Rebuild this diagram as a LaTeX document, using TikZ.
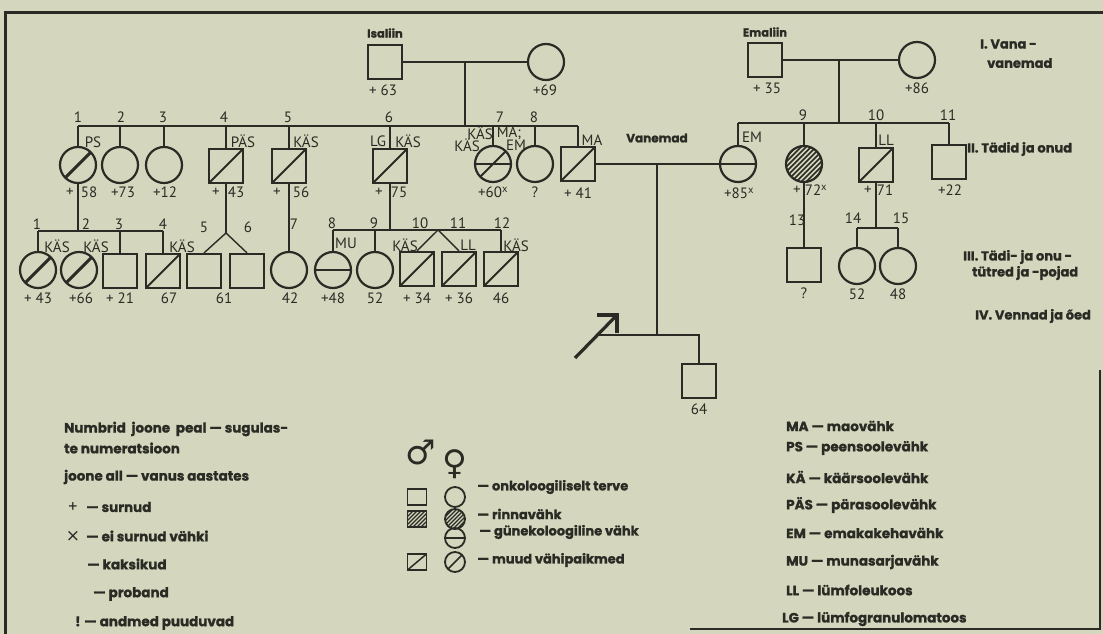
\documentclass[tikz,border=0pt]{standalone}
\usepackage{fontspec}
\setmainfont{PT Sans}
\newfontfamily\bfam{Poppins}[BoldFeatures={FakeBold=1.2}]
\newfontfamily\symf{DejaVu Sans}
\usetikzlibrary{calc}
\definecolor{bg}{HTML}{D4D7BD}
\definecolor{ink}{HTML}{2B2B25}
\begin{document}
\begin{tikzpicture}[x=1pt,y=-1pt,color=ink,
  ln/.style={line width=1.4pt},
  sq/.style={draw=ink,line width=2.2pt,rectangle,minimum width=34pt,minimum height=34pt,inner sep=0pt},
  ci/.style={draw=ink,line width=2.2pt,circle,minimum size=36pt,inner sep=0pt},
  lsq/.style={draw=ink,line width=1.8pt,rectangle,minimum width=19pt,minimum height=16pt,inner sep=0pt},
  lci/.style={draw=ink,line width=1.8pt,circle,minimum size=20pt,inner sep=0pt},
  sl/.style={path picture={\draw[ink,line width=1.8pt] (path picture bounding box.south west) -- (path picture bounding box.north east);}},
  slt/.style={path picture={\draw[ink,line width=3pt] (path picture bounding box.south west) -- (path picture bounding box.north east);}},
  hl/.style={path picture={\draw[ink,line width=2.4pt] (path picture bounding box.west) -- (path picture bounding box.east);}},
  hlsl/.style={path picture={\draw[ink,line width=2pt] (path picture bounding box.west) -- (path picture bounding box.east);
     \draw[ink,line width=1.8pt] (path picture bounding box.south west) -- (path picture bounding box.north east);}},
  hat/.style={path picture={\foreach \k in {-60,-55,...,60}{\draw[ink,line width=1.6pt] ([shift={({\k-40},40)}]path picture bounding box.center) -- ++(80,-80);}}},
  hats/.style={path picture={\foreach \k in {-40,-36,...,40}{\draw[ink,line width=1.2pt] ([shift={({\k-30},30)}]path picture bounding box.center) -- ++(60,-60);}}},
  lb/.style={font=\fontsize{15}{15}\selectfont,inner sep=0pt,text=ink},
  bl/.style={font=\bfam\bfseries\fontsize{13.5}{13.5}\selectfont,inner sep=0pt,anchor=west,text=ink},
  bc/.style={font=\bfam\bfseries\fontsize{11.5}{11.5}\selectfont,inner sep=0pt,text=ink}
]
\fill[bg] (0,0) rectangle (1103,634);
\useasboundingbox (0,0) rectangle (1103,634);
% frame
\draw[line width=3pt] (5,13) -- (1103,13);
\draw[line width=3pt] (5,11.5) -- (5,634);
\draw[line width=2.5pt] (690,629) -- (1100,629) -- (1100,370);

% ---------- paternal grandparents
\node[bc] (isa) at (385,33) {Isaliin};
\node[sq] (gf1) at (385,62) {};
\node[ci] (gm1) at (546,62) {};
\draw[ln] (gf1.east) -- (gm1.west);
\coordinate (c1) at (465,62);
\coordinate (s1) at (465,126);
\draw[ln] (c1) -- (s1);
\node[lb] (a1) at (383,90) {+ 63};
\node[lb] (a2) at (545,90) {+69};

% ---------- generation II paternal
\node[ci,slt] (p1) at (78,165) {};
\node[ci] (p2) at (120,165) {};
\node[ci] (p3) at (164,165) {};
\node[sq,sl] (p4) at (226,166) {};
\node[sq,sl] (p5) at (289,166) {};
\node[sq,sl] (p6) at (390,166) {};
\node[ci,hlsl] (p7) at (493,164) {};
\node[ci] (p8) at (535,164) {};
\node[sq,sl] (fa) at (578,164) {};
\draw[ln] (p1.north |- s1) -- (fa.north |- s1);
\foreach \n in {p1,p2,p3,p4,p5,p6,p7,p8,fa} \draw[ln] (\n.north) -- (\n.north |- s1);

\node[lb] (n1) at (78,117) {1};
\node[lb] (n2) at (121,117) {2};
\node[lb] (n3) at (163,117) {3};
\node[lb] (n4) at (224,117) {4};
\node[lb] (n5) at (288,117) {5};
\node[lb] (n6) at (389,117) {6};
\node[lb] (n7) at (500,117) {7};
\node[lb] (n8) at (534,117) {8};

\node[lb] (d1) at (93,142) {PS};
\node[lb] (d4) at (243,141) {PÄS};
\node[lb] (d5) at (306,141) {KÄS};
\node[lb] (d6a) at (378,141) {LG};
\node[lb] (d6b) at (408,141) {KÄS};
\node[lb] (d7a) at (480,133) {KÄS};
\node[lb] (d7b) at (467,145) {KÄS};
\node[lb] (d7c) at (509,133) {MA;};
\node[lb] (d7d) at (516,145) {EM};
\node[lb] (dfa) at (592,140) {MA};

\node[lb] (g1a) at (70,192) {+};
\node[lb] (g1b) at (89,192) {58};
\node[lb] (g2) at (123,192) {+73};
\node[lb] (g3) at (165,192) {+12};
\node[lb] (g4a) at (216,192) {+};
\node[lb] (g4b) at (236,192) {43};
\node[lb] (g5a) at (277,192) {+};
\node[lb] (g5b) at (301,192) {56};
\node[lb] (g6a) at (379,192) {+};
\node[lb] (g6b) at (399,192) {75};
\node[lb] (g7) at (493,192) {+60\textsuperscript{x}};
\node[lb] (g8) at (535,192) {?};
\node[lb] (gfa) at (578,193) {+ 41};

% ---------- parents
\node[ci,hl] (mo) at (738,164) {};
\node[lb] (dmo) at (752,137) {EM};
\node[lb] (gmo) at (739,193) {+85\textsuperscript{x}};
\node[bc,font=\bfam\bfseries\fontsize{12}{12}\selectfont] (van) at (657,138) {Vanemad};
\draw[ln] (fa.east) -- (mo.west);
\coordinate (c2) at (657,164);
\coordinate (s4) at (657,335);
\coordinate (s4l) at (598,335);
\node[sq] (pr) at (699,381) {};
\node[lb] (gpr) at (699,409) {64};
\draw[ln] (c2) -- (s4);
\draw[ln] (s4l) -- (s4) -- (s4 -| pr.north) -- (pr.north);
\coordinate (ar1) at (575,358);
\coordinate (ar2) at (617,315);
\coordinate (ar3) at (597,315);
\coordinate (ar4) at (617,333);
\draw[line width=3.2pt] (ar1) -- (ar2);
\draw[line width=3.2pt,line join=miter] (ar3) -- (ar2) -- (ar4);

% ---------- generation III paternal
\coordinate (s2) at (0,231);
\coordinate (s3) at (0,230);
\node[ci,slt] (q1) at (38,270) {};
\node[ci,slt] (q2) at (79,270) {};
\node[sq] (q3) at (120,271) {};
\node[sq,sl] (q4) at (163,271) {};
\node[sq] (q5) at (204,271) {};
\node[sq] (q6) at (247,271) {};
\node[ci] (q7) at (289,270) {};
\node[ci,hl] (q8) at (333,270) {};
\node[ci] (q9) at (375,270) {};
\node[sq,sl] (q10) at (417,269) {};
\node[sq,sl] (q11) at (459,269) {};
\node[sq,sl] (q12) at (501,269) {};

\draw[ln] (p1.south) -- (p1.south |- s2);
\draw[ln] (q1.north |- s2) -- (q4.north |- s2);
\foreach \n in {q1,q3,q4} \draw[ln] (\n.north) -- (\n.north |- s2);
\coordinate (t1) at (226,233);
\draw[ln] (p4.south) -- (t1);
\draw[ln] (q5.north) -- (t1) -- (q6.north);
\draw[ln] (p5.south) -- (q7.north);
\draw[ln] (p6.south) -- (p6.south |- s3);
\draw[ln] (q8.north |- s3) -- (q12.north |- s3);
\foreach \n in {q8,q9,q12} \draw[ln] (\n.north) -- (\n.north |- s3);
\coordinate (t2) at (438,230);
\draw[ln] (q10.north) -- (t2) -- (q11.north);

\node[lb] (m1) at (37,224) {1};
\node[lb] (m2) at (86,224) {2};
\node[lb] (m3) at (119,224) {3};
\node[lb] (m4) at (163,224) {4};
\node[lb] (m5) at (204,227) {5};
\node[lb] (m6) at (248,227) {6};
\node[lb] (m7) at (294,224) {7};
\node[lb] (m8) at (332,223) {8};
\node[lb] (m9) at (374,223) {9};
\node[lb] (m10) at (420,223) {10};
\node[lb] (m11) at (458,223) {11};
\node[lb] (m12) at (502,223) {12};

\node[lb] (k1) at (57,246) {KÄS};
\node[lb] (k2) at (96,246) {KÄS};
\node[lb] (k4) at (182,246) {KÄS};
\node[lb] (k8) at (346,243) {MU};
\node[lb] (k10) at (405,245) {KÄS};
\node[lb] (k11) at (468,245) {LL};
\node[lb] (k12) at (516,245) {KÄS};

\node[lb] (h1) at (38,298) {+ 43};
\node[lb] (h2) at (81,298) {+66};
\node[lb] (h3) at (120,298) {+ 21};
\node[lb] (h4) at (169,298) {67};
\node[lb] (h56) at (224,298) {61};
\node[lb] (h7) at (290,298) {42};
\node[lb] (h8) at (333,298) {+48};
\node[lb] (h9) at (375,298) {52};
\node[lb] (h10) at (417,298) {+ 34};
\node[lb] (h11) at (459,298) {+ 36};
\node[lb] (h12) at (501,298) {46};

% ---------- maternal side
\node[bc] (ema) at (765,32) {Emaliin};
\node[sq] (gf2) at (765,60) {};
\node[ci] (gm2) at (917,60) {};
\node[lb] (e1) at (767,88) {+ 35};
\node[lb] (e2) at (917,88) {+86};
\draw[ln] (gf2.east) -- (gm2.west);
\coordinate (c3) at (839,60);
\coordinate (s5) at (839,123);
\draw[ln] (c3) -- (s5);
\node[ci,hat] (r9) at (804,164) {};
\node[sq,sl] (r10) at (876,165) {};
\node[sq] (r11) at (949,162) {};
\draw[ln] (mo.north |- s5) -- (r11.north |- s5);
\foreach \n in {mo,r9,r10,r11} \draw[ln] (\n.north) -- (\n.north |- s5);
\node[lb] (o9) at (803,115) {9};
\node[lb] (o10) at (876,115) {10};
\node[lb] (o11) at (948,115) {11};
\node[lb] (x10) at (886,140) {LL};
\node[lb] (w9a) at (797,190) {+};
\node[lb] (w9b) at (816,190) {72\textsuperscript{x}};
\node[lb] (w10a) at (868,190) {+};
\node[lb] (w10b) at (885,190) {71};
\node[lb] (w11) at (950,190) {+22};

\node[sq] (r13) at (804,265) {};
\draw[ln] (r9.south) -- (r13.north);
\node[lb] (o13) at (797,220) {13};
\node[lb] (w13) at (804,293) {?};
\coordinate (s6) at (0,228);
\node[ci] (r14) at (857,266) {};
\node[ci] (r15) at (898,266) {};
\draw[ln] (r10.south) -- (r10.south |- s6);
\draw[ln] (r14.north |- s6) -- (r15.north |- s6);
\foreach \n in {r14,r15} \draw[ln] (\n.north) -- (\n.north |- s6);
\node[lb] (o14) at (853,218) {14};
\node[lb] (o15) at (901,218) {15};
\node[lb] (w14) at (857,294) {52};
\node[lb] (w15) at (898,294) {48};

% ---------- generation labels
\tikzset{gl/.style={bl,font=\bfam\bfseries\fontsize{13}{13}\selectfont}}
\node[gl] (L1a) at (980,44) {I. Vana -};
\node[gl] (L1b) at (987,63) {vanemad};
\node[gl] (L2) at (967,149) {II. Tädid ja onud};
\node[gl] (L3a) at (963,257) {III. Tädi- ja onu -};
\node[gl] (L3b) at (972,273) {tütred ja -pojad};
\node[gl] (L4) at (975,316) {IV. Vennad ja õed};

% ---------- left legend
\node[bl] (t1a) at (64,429) {Numbrid\ \ joone\ \ peal — sugulas-};
\node[bl] (t1b) at (64,448) {te numeratsioon};
\node[bl] (t2a) at (64,477) {joone all — vanus aastates};
\node[lb,font=\fontsize{18}{18}\selectfont] (plus) at (73,507) {+};
\node[bl] (t3) at (86,507) {— surnud};
\node[lb,font=\symf\fontsize{17}{17}\selectfont] (cross) at (73,536) {×};
\node[bl] (t4) at (86,536) {— ei surnud vähki};
\node[bl] (t5) at (87,564) {— kaksikud};
\node[bl] (t6) at (93,594) {— proband};
\node[bl] (t7) at (75,623) {! — andmed puuduvad};

% ---------- symbol legend
\tikzset{ml/.style={bl,font=\bfam\bfseries\fontsize{13}{13}\selectfont}}
\node[font=\symf\fontsize{34}{34}\selectfont,inner sep=0pt] (male) at (421,452) {♂};
\node[font=\symf\fontsize{34}{34}\selectfont,inner sep=0pt] (female) at (455,464) {♀};
\node[lsq] (ls1) at (417,497) {};
\node[lci] (lc1) at (455,497) {};
\node[ml] (lt1) at (477,487) {— onkoloogiliselt terve};
\node[lsq,hats] (ls2) at (417,519) {};
\node[lci,hats] (lc2) at (455,519) {};
\node[ml] (lt2) at (477,514) {— rinnavähk};
\node[lci,path picture={\draw[ink,line width=1.8pt] (path picture bounding box.west) -- (path picture bounding box.east);}] (lc3) at (455,538) {};
\node[ml] (lt3) at (479,532) {— günekoloogiline vähk};
\node[lsq,path picture={\draw[ink,line width=1.5pt] (path picture bounding box.south west) -- (path picture bounding box.north east);}] (ls4) at (417,562) {};
\node[lci,path picture={\draw[ink,line width=1.5pt] (path picture bounding box.south west) -- (path picture bounding box.north east);}] (lc4) at (455,562) {};
\node[ml] (lt4) at (477,560) {— muud vähipaikmed};

% ---------- abbreviation legend
\node[bl] (ab1) at (786,426) {MA — maovähk};
\node[bl] (ab2) at (786,448) {PS — peensoolevähk};
\node[bl] (ab3) at (786,477) {KÄ — käärsoolevähk};
\node[bl] (ab4) at (786,505) {PÄS — pärasoolevähk};
\node[bl] (ab5) at (786,533) {EM — emakakehavähk};
\node[bl] (ab6) at (786,562) {MU — munasarjavähk};
\node[bl] (ab7) at (786,590) {LL — lümfoleukoos};
\node[bl] (ab8) at (782,619) {LG — lümfogranulomatoos};
\end{tikzpicture}
\end{document}
